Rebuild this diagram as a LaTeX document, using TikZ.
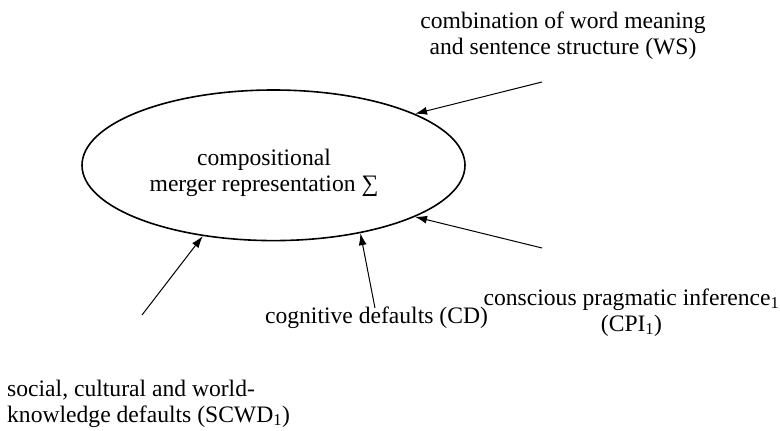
\documentclass[tikz,border=0pt]{standalone}
\usepackage{fontspec}
\setmainfont{Liberation Serif}
\usetikzlibrary{shapes.geometric,arrows.meta}
\tikzset{
  lbl/.style={font=\fontsize{23.6}{26}\selectfont, inner sep=0pt, align=center},
  arr/.style={-{Latex[length=12pt,width=8pt]}, line width=1pt},
  ell/.style={ellipse, draw, line width=1.6pt, minimum width=383pt, minimum height=150.6pt, inner sep=0pt}
}
\begin{document}
\begin{tikzpicture}[x=1pt,y=-1pt]
\useasboundingbox (0,0) rectangle (780,431);
\node[ell] (E) at (273.5,165.3) {};
\node[lbl, anchor=base] (Etext) at (264,191) {compositional\\merger representation ∑};

\node[lbl, anchor=base] (WS) at (563,54) {combination of word meaning\\and sentence structure (WS)};
\node[lbl, anchor=base] (CPI) at (631.5,331) {conscious pragmatic inference\textsubscript{1}\\(CPI\textsubscript{1})};
\node[lbl, anchor=base] (CD) at (376.5,323) {cognitive defaults (CD)};
\node[lbl, anchor=base west, align=left] (SCWD) at (7,422) {social, cultural and world-\\knowledge defaults (SCWD\textsubscript{1})};

\coordinate (ws0) at (542,82);
\coordinate (cpi0) at (542,248);
\coordinate (cd0) at (375,308);
\coordinate (sc0) at (142,315);

\draw[arr] (ws0) -- (E.20.9);
\draw[arr] (cpi0) -- (E.-20.0);
\draw[arr] (cd0) -- (E.-38.0);
\draw[arr] (sc0) -- (E.-135.3);
\end{tikzpicture}
\end{document}
